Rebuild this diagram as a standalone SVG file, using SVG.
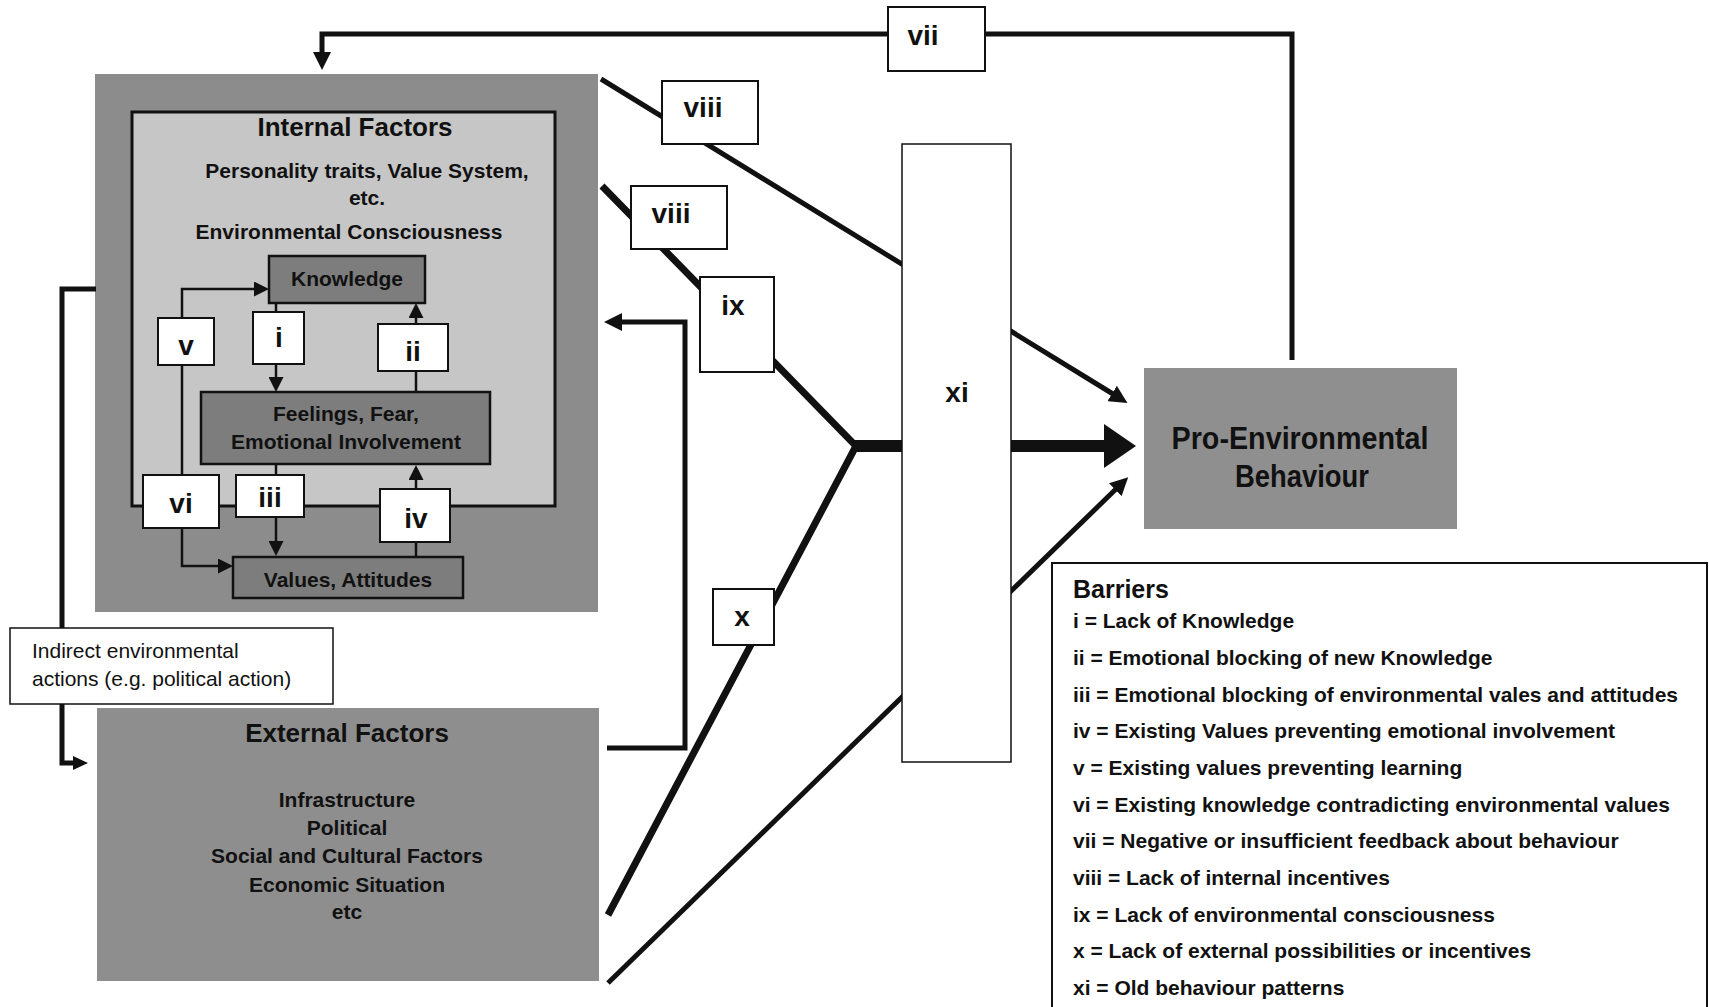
<svg xmlns="http://www.w3.org/2000/svg" width="1709" height="1007" viewBox="0 0 1709 1007">
  <style>
    text { font-family: "Liberation Sans", Arial, sans-serif; fill: #111; }
    .b { font-weight: bold; }
    .mid { text-anchor: middle; }
    .f21 { font-size: 21px; }
    .num { font-size: 28px; font-weight: bold; text-anchor: middle; }
    .tag { fill: #fff; stroke: #111; stroke-width: 2; }
    .inbox { fill: #7d7d7d; stroke: #111; stroke-width: 2.5; }
    .ln { fill: none; stroke: #111; stroke-linejoin: miter; }
    .thin { stroke-width: 2.5; }
    .mid5 { stroke-width: 5; }
    .bold7 { stroke-width: 7; }
    .legend text { font-size: 21px; font-weight: bold; }
  </style>
  <defs>
    <marker id="ahSmall" markerUnits="userSpaceOnUse" markerWidth="15" markerHeight="15" refX="1" refY="7.5" orient="auto">
      <path d="M0,0 L15,7.5 L0,15 z" fill="#111"/>
    </marker>
    <marker id="ahMed" markerUnits="userSpaceOnUse" markerWidth="18" markerHeight="18" refX="1" refY="9" orient="auto">
      <path d="M0,0 L18,9 L0,18 z" fill="#111"/>
    </marker>
    <marker id="ahLeft" markerUnits="userSpaceOnUse" markerWidth="15" markerHeight="14" refX="1" refY="7" orient="auto">
      <path d="M0,0 L15,7 L0,14 z" fill="#111"/>
    </marker>
    <marker id="ahBig" markerUnits="userSpaceOnUse" markerWidth="32" markerHeight="44" refX="1" refY="22" orient="auto">
      <path d="M0,0 L32,22 L0,44 z" fill="#111"/>
    </marker>
  </defs>

  <rect width="1709" height="1007" fill="#fff"/>

  <!-- Internal factors: outer frame and inner panel -->
  <g id="internal-factors">
    <rect x="95" y="74" width="503" height="538" fill="#8c8c8c"/>
    <rect x="132" y="112" width="423" height="394" fill="#c6c6c6" stroke="#111" stroke-width="3"/>
    <text class="b mid" x="355" y="136" font-size="26">Internal Factors</text>
    <text class="b mid f21" x="367" y="178">Personality traits, Value System,</text>
    <text class="b mid f21" x="367" y="205">etc.</text>
    <text class="b mid f21" x="349" y="239">Environmental Consciousness</text>
  </g>

  <g id="knowledge">
    <rect class="inbox" x="269" y="256" width="156" height="47"/>
    <text class="b mid f21" x="347" y="286">Knowledge</text>
  </g>

  <g id="feelings">
    <rect class="inbox" x="201" y="392" width="289" height="72"/>
    <text class="b mid f21" x="346" y="421">Feelings, Fear,</text>
    <text class="b mid f21" x="346" y="449">Emotional Involvement</text>
  </g>

  <g id="values">
    <rect class="inbox" x="233" y="557" width="230" height="41"/>
    <text class="b mid f21" x="348" y="587">Values, Attitudes</text>
  </g>

  <g id="external-factors">
    <rect x="97" y="708" width="502" height="273" fill="#8e8e8e"/>
    <text class="b mid" x="347" y="742" font-size="26">External Factors</text>
    <text class="b mid f21" x="347" y="807">Infrastructure</text>
    <text class="b mid f21" x="347" y="835">Political</text>
    <text class="b mid f21" x="347" y="863">Social and Cultural Factors</text>
    <text class="b mid f21" x="347" y="892">Economic Situation</text>
    <text class="b mid f21" x="347" y="919">etc</text>
  </g>

  <g id="pro-environmental-behaviour">
    <rect x="1144" y="368" width="313" height="161" fill="#8f8f8f"/>
    <text class="b mid" x="1300" y="449" font-size="31" textLength="257" lengthAdjust="spacingAndGlyphs">Pro-Environmental</text>
    <text class="b mid" x="1302" y="487" font-size="31" textLength="134" lengthAdjust="spacingAndGlyphs">Behaviour</text>
  </g>

  <!-- Connectors -->
  <g id="connectors">
    <!-- links inside the internal factors panel -->
    <path class="ln thin" d="M182,420 V289 H255" marker-end="url(#ahSmall)"/>
    <path class="ln thin" d="M182,420 V566 H219" marker-end="url(#ahSmall)"/>
    <path class="ln thin" d="M276,303 V378" marker-end="url(#ahSmall)"/>
    <path class="ln thin" d="M416,392 V317" marker-end="url(#ahSmall)"/>
    <path class="ln thin" d="M276,464 V542" marker-end="url(#ahSmall)"/>
    <path class="ln thin" d="M416,557 V479" marker-end="url(#ahSmall)"/>

    <!-- indirect actions loop from internal to external factors -->
    <path class="ln mid5" d="M96,289 H62 V763 H74" marker-end="url(#ahLeft)"/>

    <!-- feedback from behaviour back to internal factors -->
    <path class="ln mid5" d="M1292,360 V34 H322 V53" marker-end="url(#ahMed)"/>

    <!-- external factors feeding back to internal factors -->
    <path class="ln mid5" d="M607,748 H685 V322 H621" marker-end="url(#ahMed)"/>

    <!-- direct paths to behaviour -->
    <path class="ln mid5" d="M601,79 L1113,394" marker-end="url(#ahMed)"/>
    <path class="ln mid5" d="M608,983 L1116,489" marker-end="url(#ahMed)"/>

    <!-- main converging path -->
    <path class="ln bold7" d="M602,186 L856,446 L608,915"/>
    <path class="ln" stroke-width="12" d="M853,446 H1105" marker-end="url(#ahBig)"/>
  </g>

  <!-- Barrier labels -->
  <g id="barrier-i">
    <rect class="tag" x="253" y="312" width="51" height="52"/>
    <text class="num" x="279" y="347">i</text>
  </g>
  <g id="barrier-ii">
    <rect class="tag" x="378" y="324" width="70" height="47"/>
    <text class="num" x="413" y="361">ii</text>
  </g>
  <g id="barrier-iii">
    <rect class="tag" x="236" y="475" width="68" height="42"/>
    <text class="num" x="270" y="507">iii</text>
  </g>
  <g id="barrier-iv">
    <rect class="tag" x="380" y="489" width="70" height="53"/>
    <text class="num" x="416" y="528">iv</text>
  </g>
  <g id="barrier-v">
    <rect class="tag" x="158" y="318" width="56" height="47"/>
    <text class="num" x="186" y="355">v</text>
  </g>
  <g id="barrier-vi">
    <rect class="tag" x="143" y="475" width="76" height="53"/>
    <text class="num" x="181" y="513">vi</text>
  </g>
  <g id="barrier-vii">
    <rect class="tag" x="888" y="7" width="97" height="64"/>
    <text class="num" x="923" y="45">vii</text>
  </g>
  <g id="barrier-viii-a">
    <rect class="tag" x="662" y="81" width="96" height="63"/>
    <text class="num" x="703" y="117">viii</text>
  </g>
  <g id="barrier-viii-b">
    <rect class="tag" x="631" y="186" width="96" height="63"/>
    <text class="num" x="671" y="223">viii</text>
  </g>
  <g id="barrier-ix">
    <rect class="tag" x="700" y="277" width="74" height="95"/>
    <text class="num" x="733" y="315">ix</text>
  </g>
  <g id="barrier-x">
    <rect class="tag" x="713" y="589" width="61" height="56"/>
    <text class="num" x="742" y="626">x</text>
  </g>
  <g id="barrier-xi">
    <rect x="902" y="144" width="109" height="618" fill="#fff" stroke="#111" stroke-width="1.5"/>
    <text class="num" x="957" y="402">xi</text>
  </g>

  <g id="indirect-actions">
    <rect x="10" y="628" width="323" height="76" fill="#fff" stroke="#111" stroke-width="1.5"/>
    <text class="f21" x="32" y="658">Indirect environmental</text>
    <text class="f21" x="32" y="686">actions (e.g. political action)</text>
  </g>

  <g id="barriers-legend" class="legend">
    <rect x="1052" y="563" width="655" height="460" fill="#fff" stroke="#111" stroke-width="2"/>
    <text x="1073" y="598" style="font-size:25px">Barriers</text>
    <text x="1073" y="628">i = Lack of Knowledge</text>
    <text x="1073" y="665">ii = Emotional blocking of new Knowledge</text>
    <text x="1073" y="702">iii = Emotional blocking of environmental vales and attitudes</text>
    <text x="1073" y="738">iv = Existing Values preventing emotional involvement</text>
    <text x="1073" y="775">v = Existing values preventing learning</text>
    <text x="1073" y="812">vi = Existing knowledge contradicting environmental values</text>
    <text x="1073" y="848">vii = Negative or insufficient feedback about behaviour</text>
    <text x="1073" y="885">viii = Lack of internal incentives</text>
    <text x="1073" y="922">ix = Lack of environmental consciousness</text>
    <text x="1073" y="958">x = Lack of external possibilities or incentives</text>
    <text x="1073" y="995">xi = Old behaviour patterns</text>
  </g>
</svg>
